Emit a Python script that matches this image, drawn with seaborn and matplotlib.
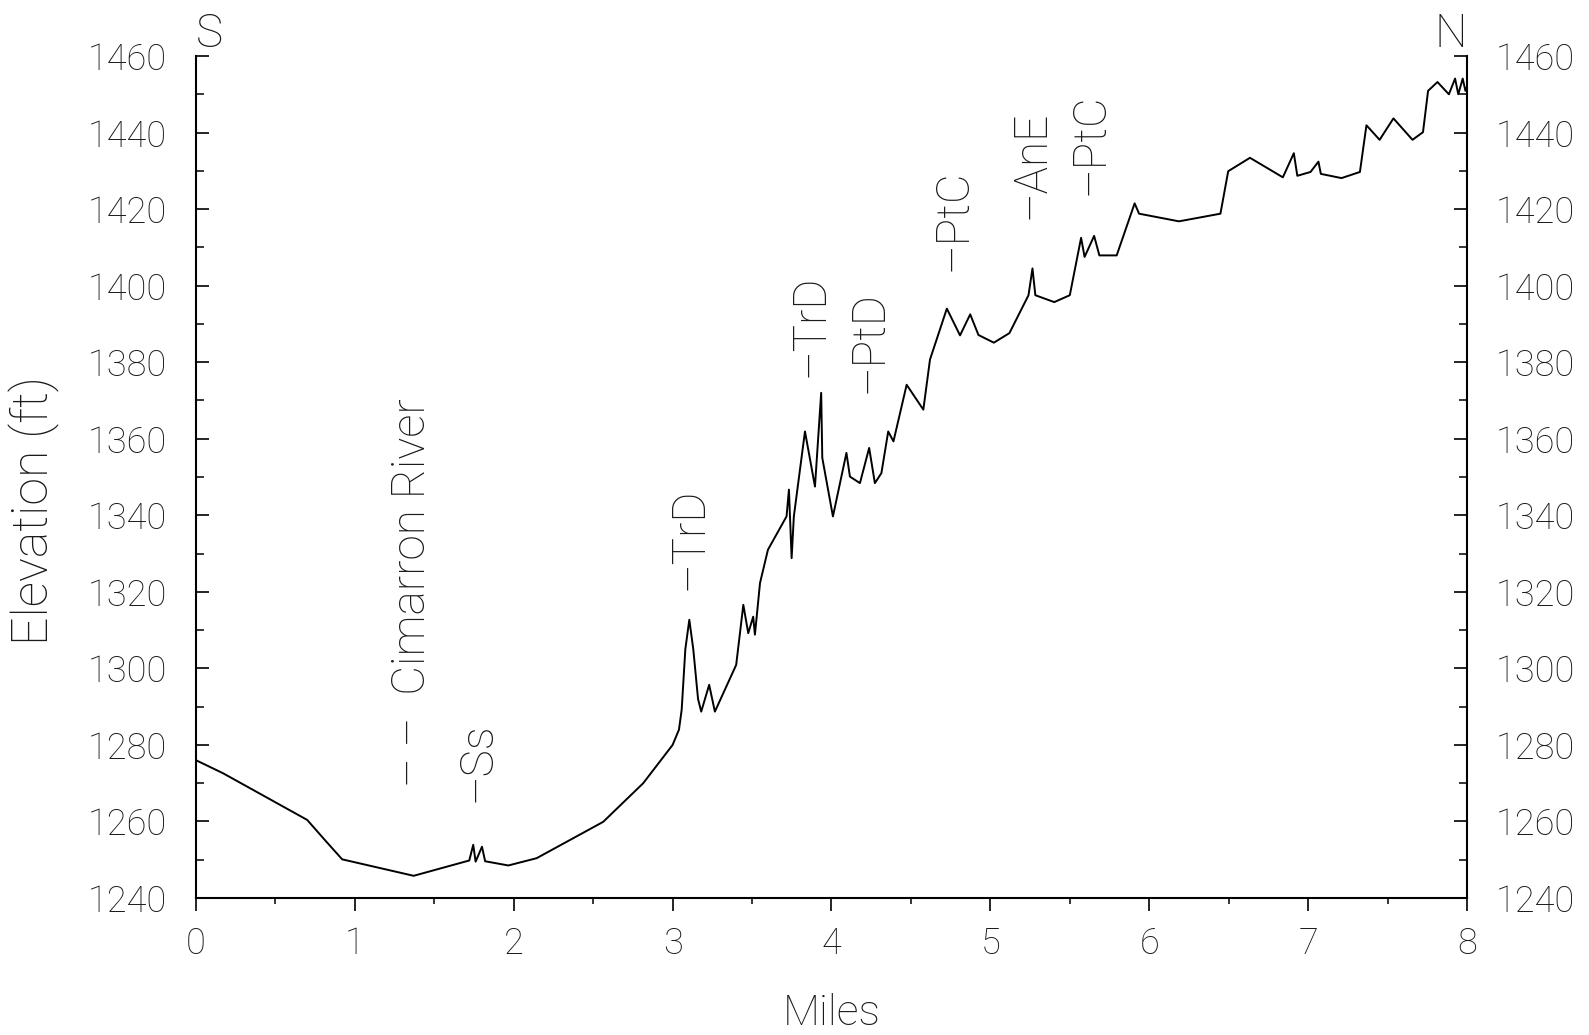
import matplotlib
matplotlib.use("Agg")
import matplotlib.pyplot as plt
import seaborn as sns
import pandas as pd
from matplotlib.ticker import MultipleLocator

# ---- data ----
miles = [0.0, 0.17, 0.70, 0.81, 0.92, 1.37, 1.72, 1.745, 1.76, 1.80, 1.82,
         1.966, 2.144, 2.563, 2.815, 3.0, 3.04, 3.057, 3.08, 3.105, 3.13, 3.16,
         3.18, 3.23, 3.266, 3.40, 3.445, 3.476, 3.507, 3.518, 3.55, 3.60,
         3.717, 3.732, 3.749, 3.763, 3.833, 3.896, 3.935, 3.942, 4.009,
         4.094, 4.116, 4.179, 4.237, 4.273, 4.314, 4.357, 4.39, 4.473, 4.578,
         4.62, 4.726, 4.809, 4.873, 4.925, 5.022, 5.12, 5.24, 5.265, 5.283,
         5.402, 5.50, 5.571, 5.593, 5.653, 5.686, 5.795, 5.908, 5.936, 6.187,
         6.448, 6.497, 6.634, 6.841, 6.91, 6.932, 7.015, 7.065, 7.08, 7.21,
         7.326, 7.367, 7.45, 7.537, 7.657, 7.723, 7.755, 7.814, 7.886, 7.925,
         7.945, 7.973, 7.99, 8.0]
elev_ft = [1276, 1272.6, 1260.4, 1255.2, 1250.1, 1245.8, 1249.8, 1253.9,
           1249.5, 1253.4, 1249.6, 1248.5, 1250.4, 1259.9, 1270, 1280, 1284,
           1289.2, 1305, 1312.7, 1305, 1292, 1288.7, 1295.7, 1288.7, 1300.9,
           1316.6, 1309.2, 1313.5, 1308.8, 1322.3, 1331, 1339.7, 1346.7,
           1328.8, 1339.7, 1361.9, 1347.5, 1372, 1355, 1339.7, 1356.3, 1350.1,
           1348.4, 1357.6, 1348.4, 1351, 1361.9, 1359.3, 1374.1, 1367.6,
           1380.7, 1394, 1387, 1392.5, 1387.1, 1385.1, 1387.6, 1397.5, 1404.5,
           1397.5, 1395.7, 1397.5, 1412.5, 1407.5, 1413, 1407.9, 1407.9,
           1421.5, 1418.8, 1416.8, 1418.8, 1429.9, 1433.4, 1428.3, 1434.6,
           1428.7, 1429.7, 1432.4, 1429.2, 1428.1, 1429.7, 1441.9, 1438.1,
           1443.7, 1438.1, 1440.1, 1450.9, 1453.2, 1450, 1454.1, 1450, 1454.1,
           1450.9, 1452]

label_text = ["– –  Cimarron River", "–Ss", "–TrD", "–TrD", "–PtD", "–PtC",
              "–AnE", "–PtC"]
label_mile = [1.357, 1.77, 3.105, 3.87, 4.24, 4.766, 5.26, 5.632]
label_elev = [1269, 1265, 1320.5, 1376, 1372, 1403.7, 1417.3, 1423.6]

x_ticks = [0, 1, 2, 3, 4, 5, 6, 7, 8]
y_ticks = [1240, 1260, 1280, 1300, 1320, 1340, 1360, 1380, 1400, 1420, 1440, 1460]

# ---- style ----
sns.set_theme(style="ticks")
plt.rcParams["font.family"] = ["Roboto", "DejaVu Sans"]
plt.rcParams["font.weight"] = "light"
plt.rcParams["axes.labelweight"] = "light"
ink = "#1a1a1a"

fig = plt.figure(figsize=(15.89, 10.35), dpi=100)
ax = fig.add_axes([196 / 1589, 1 - 898 / 1035, (1467 - 196) / 1589, (898 - 56) / 1035])

df = pd.DataFrame({"Miles": miles, "Elevation": elev_ft})
sns.lineplot(data=df, x="Miles", y="Elevation", sort=False, estimator=None,
             color="black", linewidth=1.4, ax=ax)

ax.set_xlim(0, 8)
ax.set_ylim(1240, 1460)
ax.set_xticks(x_ticks)
ax.set_yticks(y_ticks)
ax.xaxis.set_minor_locator(MultipleLocator(0.5))
ax.yaxis.set_minor_locator(MultipleLocator(10))

for side in ["left", "right", "bottom"]:
    ax.spines[side].set_visible(True)
    ax.spines[side].set_color("black")
    ax.spines[side].set_linewidth(1.5)
ax.spines["top"].set_visible(False)

ax.tick_params(axis="x", which="major", direction="out", length=9.4, width=1.2,
               pad=11, labelsize=26, colors="black", labelcolor=ink)
ax.tick_params(axis="x", which="minor", direction="out", length=4, width=1.1,
               colors="black")
ax.tick_params(axis="y", which="major", direction="in", length=9.4, width=1.2,
               left=True, right=True, labelleft=True, labelright=True,
               pad=21, labelsize=26, colors="black", labelcolor=ink)
ax.tick_params(axis="y", which="minor", direction="in", length=5.8, width=1.1,
               left=True, right=True, colors="black")

ax.set_xlabel("Miles", fontsize=31, color=ink, labelpad=22, fontweight="light")
ax.set_ylabel("Elevation (ft)", fontsize=36, color=ink, fontweight="light")
ax.yaxis.set_label_coords(-0.107, 0.4596)

for t, xm, ye in zip(label_text, label_mile, label_elev):
    ax.text(xm, ye, t, rotation=90, ha="center", va="bottom", fontsize=33,
            color=ink, fontweight="light")

ax.text(0.0, 1462.4, "S", ha="left", va="baseline", fontsize=33, color=ink,
        clip_on=False, fontweight="light")
ax.text(8.0, 1462.4, "N", ha="right", va="baseline", fontsize=33, color=ink,
        clip_on=False, fontweight="light")

fig.savefig("out.png", dpi=100, facecolor="white")
